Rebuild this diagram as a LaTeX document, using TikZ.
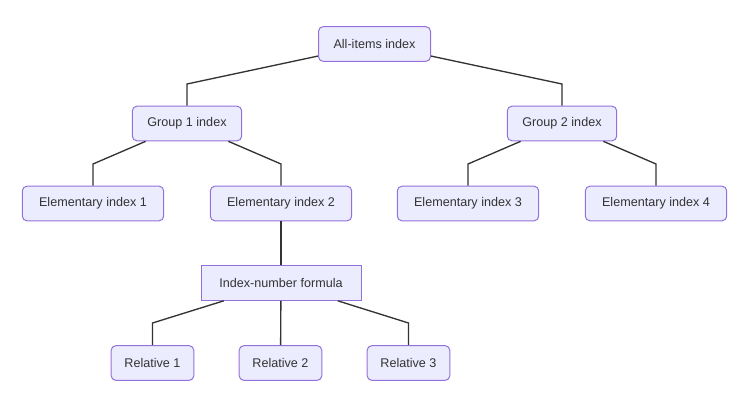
\documentclass[tikz,border=0pt]{standalone}
\usepackage{fontspec}
\setmainfont{Liberation Sans}
\usetikzlibrary{positioning}
\definecolor{boxfill}{HTML}{ECECFF}
\definecolor{boxline}{HTML}{9370DB}
\definecolor{ink}{HTML}{333333}

\begin{document}
\begin{tikzpicture}[x=0.75pt,y=-0.75pt,line width=1pt,draw=ink,
                    font=\fontsize{9.45}{11}\selectfont]
  \tikzstyle{every node}=[text=ink]
  \tikzstyle{box}=[draw=boxline,fill=boxfill,line width=0.75pt,
                   rounded corners=3.5pt,minimum height=26pt,inner sep=0pt]
  \tikzstyle{sqbox}=[box,rounded corners=0pt]
  \useasboundingbox (0,0) rectangle (755,413);

  \node[box,minimum width=84pt]   (all)     at (374.5,44)  {All-items index};
  \node[box,minimum width=82pt]   (grp1)    at (187,123.5) {Group 1 index};
  \node[box,minimum width=82pt]   (grp2)    at (562,123.5) {Group 2 index};
  \node[box,minimum width=106pt]  (elem1)   at (93,203.5)  {Elementary index 1};
  \node[box,minimum width=106pt]  (elem2)   at (281,203.5) {Elementary index 2};
  \node[box,minimum width=106pt]  (elem3)   at (468,203.5) {Elementary index 3};
  \node[box,minimum width=106pt]  (elem4)   at (656,203.5) {Elementary index 4};
  \node[sqbox,minimum width=120pt](formula) at (281,283)   {Index-number formula};
  \node[box,minimum width=62pt]   (rel1)    at (152.5,363) {Relative 1};
  \node[box,minimum width=62pt]   (rel2)    at (280.5,363) {Relative 2};
  \node[box,minimum width=62pt]   (rel3)    at (408.5,363) {Relative 3};

  % bends
  \coordinate (b1) at (187,84);
  \coordinate (b2) at (562,84);
  \coordinate (b3) at (93,164);
  \coordinate (b4) at (281,164);
  \coordinate (b5) at (468,164);
  \coordinate (b6) at (656,164);
  \coordinate (b7) at (152.5,323);
  \coordinate (b8) at (408.5,323);

  \draw (all)     -- (b1) -- (grp1);
  \draw (all)     -- (b2) -- (grp2);
  \draw (grp1)    -- (b3) -- (elem1);
  \draw (grp1)    -- (b4) -- (elem2);
  \draw (grp2)    -- (b5) -- (elem3);
  \draw (grp2)    -- (b6) -- (elem4);
  \draw (elem2)   -- (formula);
  \draw (formula) -- (b7) -- (rel1);
  \draw (formula) -- (rel2);
  \draw (formula) -- (b8) -- (rel3);
\end{tikzpicture}
\end{document}
